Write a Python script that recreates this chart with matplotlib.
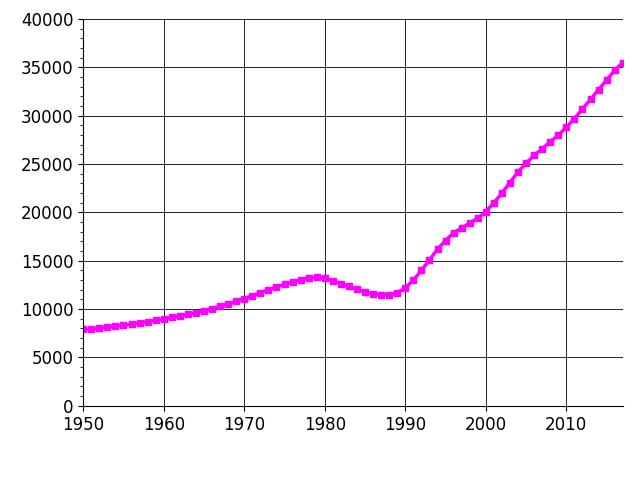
import matplotlib
matplotlib.use('Agg')
import matplotlib.pyplot as plt
from matplotlib.ticker import MultipleLocator

years = list(range(1950, 2018))
values = [7900, 7950, 8050, 8150, 8250, 8350, 8450, 8600, 8700, 8850,
          9000, 9150, 9300, 9450, 9650, 9850, 10050, 10300, 10550, 10800,
          11100, 11400, 11700, 12000, 12300, 12550, 12800, 13050, 13250, 13300,
          13200, 12950, 12650, 12350, 12050, 11800, 11600, 11500, 11500, 11700,
          12200, 13000, 14000, 15100, 16200, 17100, 17900, 18400, 18900, 19400,
          20100, 21000, 22000, 23100, 24200, 25100, 25900, 26600, 27300, 28000,
          28800, 29700, 30700, 31700, 32700, 33700, 34700, 35500]

fig = plt.figure(figsize=(6.4, 4.78), dpi=100)
ax = fig.add_axes([0.13, 0.151, 0.843, 0.809])
ax.plot(years, values, color='#ff00ff', linewidth=2.5, marker='s', markersize=5)
ax.set_xlim(1950, 2017)
ax.set_ylim(0, 40000)
ax.set_xticks(range(1950, 2011, 10))
ax.set_yticks(range(0, 40001, 5000))
ax.yaxis.set_minor_locator(MultipleLocator(1000))
ax.grid(True, color='black', linewidth=0.6)
for s in ['top', 'right']:
    ax.spines[s].set_visible(False)
ax.tick_params(labelsize=12, direction='out')
fig.savefig('out.png')
